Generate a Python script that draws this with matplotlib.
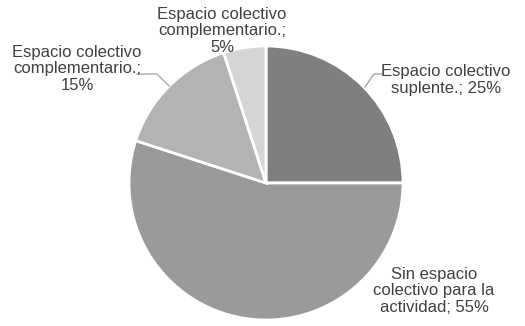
import matplotlib
matplotlib.use('Agg')
import matplotlib.pyplot as plt

matplotlib.rcParams['font.family'] = ['Liberation Sans', 'DejaVu Sans']

categories = ['Espacio colectivo\nsuplente.', 'Sin espacio\ncolectivo para la\nactividad',
              'Espacio colectivo\ncomplementario.', 'Espacio colectivo\ncomplementario.']
values = [25, 55, 15, 5]
colors = ['#7f7f7f', '#9a9a9a', '#b3b3b3', '#d5d5d5']

W, H = 525, 326
cx, cy, r = 266, 183, 137

fig = plt.figure(figsize=(W / 100, H / 100), dpi=100)
ax = fig.add_axes([(cx - r) / W, (H - cy - r) / H, 2 * r / W, 2 * r / H])
ax.pie(values, colors=colors, startangle=90, counterclock=False,
       wedgeprops=dict(edgecolor='white', linewidth=2))
ax.set_xlim(-1, 1)
ax.set_ylim(-1, 1)
ax.set_aspect('auto')

def px(x, y):
    return (x - cx) / r, (cy - y) / r

# label text, label center (pixels), leader line points (pixels)
def label_text(name, v):
    if name.endswith('actividad'):
        return f'{name}; {v}%'
    if name.endswith('suplente.'):
        return f'{name}; {v}%'
    return f'{name};\n{v}%'

label_pos = [(446, 80), (434, 291), (77, 69), (222, 31)]
leaders = [[(383, 74), (374, 74), (365, 87)], None,
           [(137, 74), (157, 74), (169, 86)], None]

for name, v, pos, lead in zip(categories, values, label_pos, leaders):
    x, y = px(*pos)
    ax.text(x, y, label_text(name, v), ha='center', va='center', fontsize=12,
            color='#404040', linespacing=1.15, clip_on=False)
    if lead:
        xs, ys = zip(*[px(*p) for p in lead])
        ax.plot(xs, ys, color='#a6a6a6', lw=1, clip_on=False)

fig.savefig('out.png', dpi=100)
